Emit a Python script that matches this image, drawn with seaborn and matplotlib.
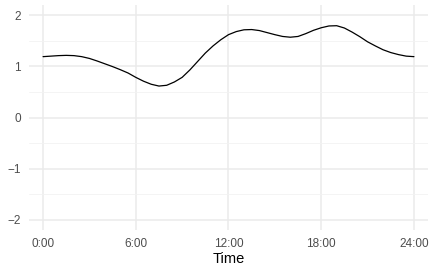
import numpy as np
import pandas as pd
import seaborn as sns
import matplotlib.pyplot as plt

# Values, every half hour
hours = [0.0, 0.5, 1.0, 1.5, 2.0, 2.5, 3.0, 3.5, 4.0, 4.5, 5.0, 5.5,
         6.0, 6.5, 7.0, 7.5, 8.0, 8.5, 9.0, 9.5, 10.0, 10.5, 11.0, 11.5,
         12.0, 12.5, 13.0, 13.5, 14.0, 14.5, 15.0, 15.5, 16.0, 16.5, 17.0, 17.5,
         18.0, 18.5, 19.0, 19.5, 20.0, 20.5, 21.0, 21.5, 22.0, 22.5, 23.0, 23.5,
         24.0]
values = [1.19, 1.20, 1.21, 1.215, 1.21, 1.19, 1.155, 1.105, 1.05, 0.995, 0.935, 0.87,
          0.785, 0.71, 0.65, 0.615, 0.63, 0.695, 0.785, 0.93, 1.095, 1.26, 1.40, 1.52,
          1.62, 1.68, 1.715, 1.72, 1.70, 1.66, 1.62, 1.585, 1.57, 1.585, 1.64, 1.705,
          1.755, 1.79, 1.795, 1.75, 1.67, 1.58, 1.48, 1.40, 1.325, 1.27, 1.23, 1.20,
          1.19]

x_ticks = [0, 6, 12, 18, 24]
x_labels = ['0:00', '6:00', '12:00', '18:00', '24:00']
y_ticks = [-2, -1, 0, 1, 2]

df = pd.DataFrame({'Time': hours, 'value': values})

sns.set_theme(style='whitegrid')
plt.rcParams['font.family'] = ['Liberation Sans', 'DejaVu Sans']

fig = plt.figure(figsize=(4.31, 2.65), dpi=100)
ax = fig.add_axes([29 / 431, 1 - 230 / 265, 399 / 431, 225 / 265])

sns.lineplot(data=df, x='Time', y='value', color='black', linewidth=0.9, ax=ax)

ax.set_xlim(-0.91, 24.91)
ax.set_ylim(-2.2, 2.2)
ax.set_xticks(x_ticks)
ax.set_xticklabels(x_labels)
ax.set_yticks(y_ticks)
ax.set_yticklabels(['\u22122', '\u22121', '0', '1', '2'])
ax.set_yticks([-1.5, -0.5, 0.5, 1.5], minor=True)

ax.set_facecolor('white')
for s in ax.spines.values():
    s.set_visible(False)
ax.grid(which='major', color='#ebebeb', linewidth=1.1)
ax.grid(which='minor', axis='y', color='#f2f2f2', linewidth=0.6)
ax.tick_params(axis='both', which='both', length=0, labelsize=8.5, colors='#4d4d4d')
ax.tick_params(axis='x', pad=6)
ax.tick_params(axis='y', pad=6)

ax.set_ylabel('')
ax.set_xlabel('Time', fontsize=10.5, color='black', labelpad=1)

fig.savefig('out.png', dpi=100, facecolor='white')
